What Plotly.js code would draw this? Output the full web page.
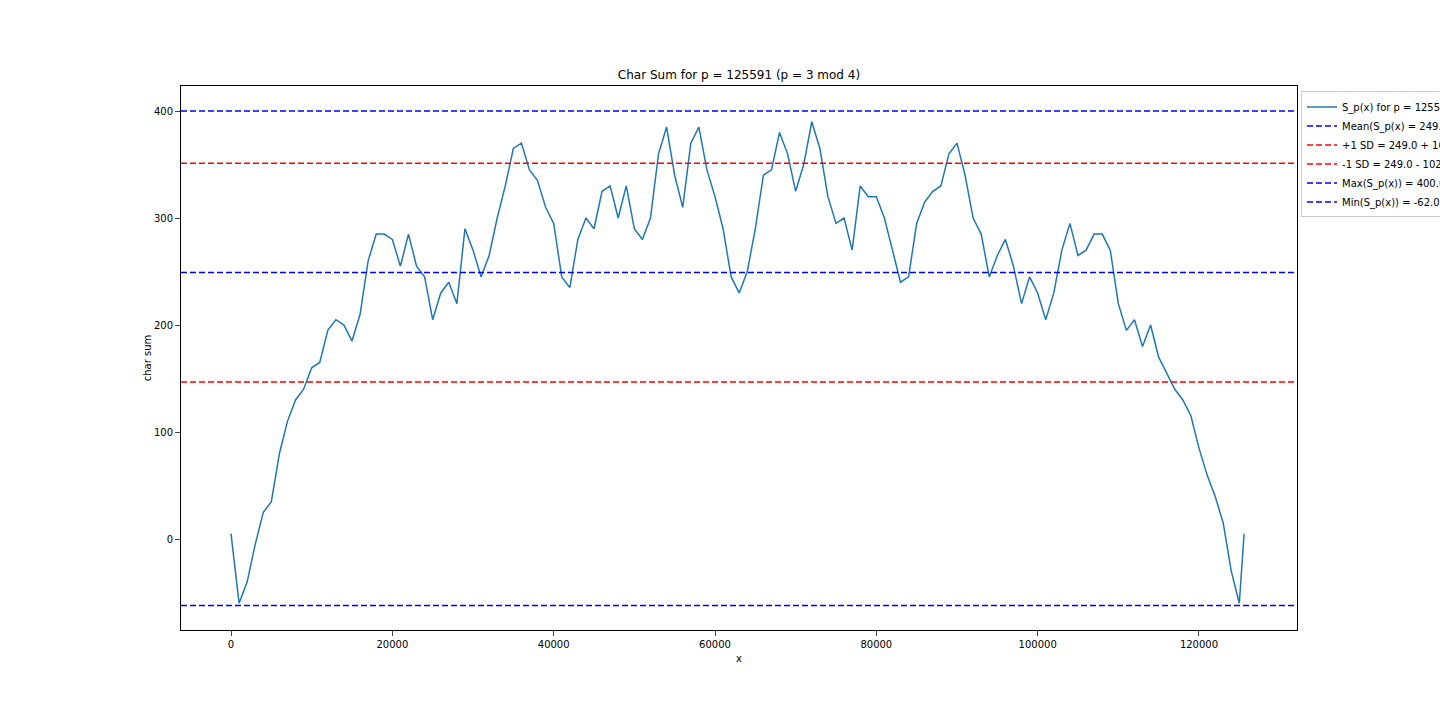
<!DOCTYPE html>
<html><head><meta charset="utf-8">
<script src="https://cdn.plot.ly/plotly-3.0.1.min.js"></script>
<style>body{margin:0;background:#fff}#c{width:1440px;height:720px}</style>
</head><body><div id="c"></div>
<script>
const xs = [0,1000,2000,3000,4000,5000,6000,7000,8000,9000,10000,11000,12000,13000,14000,15000,16000,17000,18000,19000,20000,21000,22000,23000,24000,25000,26000,27000,28000,29000,30000,31000,32000,33000,34000,35000,36000,37000,38000,39000,40000,41000,42000,43000,44000,45000,46000,47000,48000,49000,50000,51000,52000,53000,54000,55000,56000,57000,58000,59000,60000,61000,62000,63000,64000,65000,66000,67000,68000,69000,70000,71000,72000,73000,74000,75000,76000,77000,78000,79000,80000,81000,82000,83000,84000,85000,86000,87000,88000,89000,90000,91000,92000,93000,94000,95000,96000,97000,98000,99000,100000,101000,102000,103000,104000,105000,106000,107000,108000,109000,110000,111000,112000,113000,114000,115000,116000,117000,118000,119000,120000,121000,122000,123000,124000,125000,125591];
const ys = [5,-60,-40,-5,25,35,80,110,130,140,160,165,195,205,200,185,210,260,285,285,280,255,285,255,245,205,230,240,220,290,270,245,265,300,330,365,370,345,335,310,295,245,235,280,300,290,325,330,300,330,290,280,300,360,385,340,310,370,385,345,320,290,245,230,250,290,340,345,380,360,325,350,390,365,320,295,300,270,330,320,320,300,270,240,245,295,315,325,330,360,370,340,300,285,245,265,280,255,220,245,230,205,230,270,295,265,270,285,285,270,220,195,205,180,200,170,155,140,130,115,85,60,40,15,-30,-60,5];
const hNames = ['Mean(S_p(x) = 249.0','+1 SD = 249.0 + 102.3 = 351.3','-1 SD = 249.0 - 102.3 = 146.7','Max(S_p(x)) = 400.0','Min(S_p(x)) = -62.0'];
const hVals = [249.0, 351.3, 146.7, 400.0, -62.0];
const hColors = ['#0000ff','#ff0000','#ff0000','#0000ff','#0000ff'];
const traces = [{x:xs,y:ys,mode:'lines',name:'S_p(x) for p = 125591',line:{color:'#1f77b4',width:1.5}}];
hVals.forEach((v,i)=>traces.push({x:[-6200,132150],y:[v,v],mode:'lines',name:hNames[i],line:{color:hColors[i],width:1.5,dash:'6px,3px'}}));
Plotly.newPlot('c',traces,{
  width:1440,height:720,margin:{l:181,r:143,t:86,b:90,autoexpand:false},
  paper_bgcolor:'#fff',plot_bgcolor:'#fff',
  font:{family:'DejaVu Sans',size:10,color:'#000'},
  title:{text:'Char Sum for p = 125591 (p = 3 mod 4)',x:0.5,xref:'paper',y:0.896,yanchor:'middle',font:{size:12}},
  xaxis:{range:[-6200,132150],showgrid:false,zeroline:false,showline:true,mirror:true,linecolor:'#000',ticks:'outside',tickvals:[0,20000,40000,60000,80000,100000,120000],ticktext:['0','20000','40000','60000','80000','100000','120000'],title:{text:'x',font:{size:10},standoff:5}},
  yaxis:{range:[-85,423.4],showgrid:false,zeroline:false,showline:true,mirror:true,linecolor:'#000',ticks:'outside',tickvals:[0,100,200,300,400],title:{text:'char sum',font:{size:10}}},
  legend:{x:1.0036,y:0.99,xanchor:'left',yanchor:'top',bordercolor:'#ccc',borderwidth:1,font:{size:10},tracegroupgap:0},
  showlegend:true
},{staticPlot:true});
</script></body></html>
